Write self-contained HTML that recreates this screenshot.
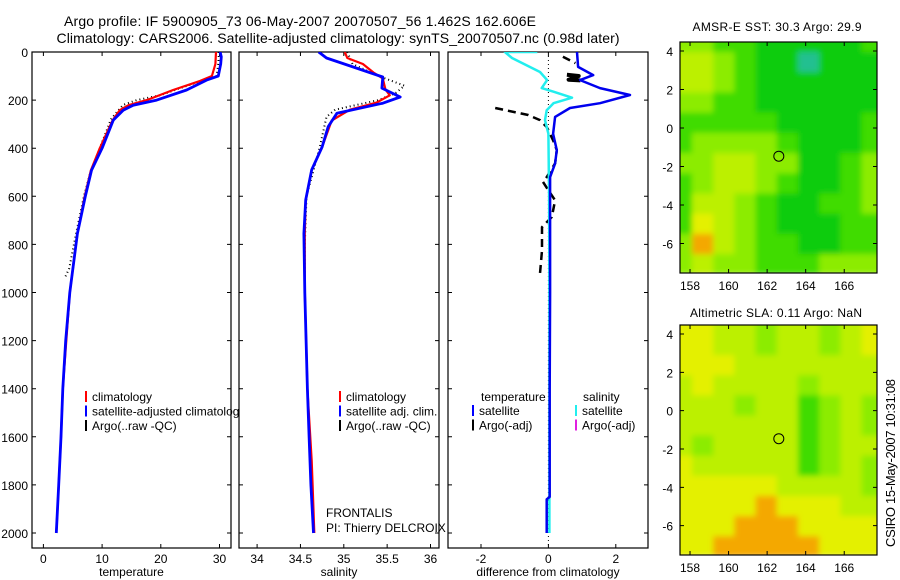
<!DOCTYPE html>
<html><head><meta charset="utf-8"><style>
html,body{margin:0;padding:0;background:#fff;}
svg{display:block;font-family:"Liberation Sans",Arial,sans-serif;}
</style></head><body>
<svg id="fig" width="900" height="580" viewBox="0 0 900 580" xmlns="http://www.w3.org/2000/svg">
<defs>
<clipPath id="cp1"><rect x="32" y="52" width="199" height="496"/></clipPath>
<clipPath id="cp2"><rect x="239" y="52" width="200" height="496"/></clipPath>
<clipPath id="cp3"><rect x="448" y="52" width="200" height="496"/></clipPath>
<clipPath id="cm1"><rect x="680" y="42" width="197" height="231"/></clipPath>
<clipPath id="cm2"><rect x="680" y="325" width="197" height="230"/></clipPath>
<filter id="bl" x="-5%" y="-5%" width="110%" height="110%"><feGaussianBlur stdDeviation="3"/></filter>
</defs>
<text x="300" y="26" font-size="14" text-anchor="middle" textLength="472">Argo profile: IF 5900905_73 06-May-2007 20070507_56 1.462S 162.606E</text>
<text x="338" y="43" font-size="14" text-anchor="middle" textLength="563">Climatology: CARS2006. Satellite-adjusted climatology: synTS_20070507.nc (0.98d later)</text>
<text x="777" y="31" font-size="12" text-anchor="middle" textLength="169">AMSR-E SST: 30.3 Argo: 29.9</text>
<text x="776" y="317" font-size="12" text-anchor="middle" textLength="172">Altimetric SLA: 0.11 Argo: NaN</text>
<text transform="translate(895,463) rotate(-90)" font-size="13" text-anchor="middle" textLength="168">CSIRO 15-May-2007 10:31:08</text>
<g id="g"></g>
</svg>
<script>
// ---------- profile data ----------
const tempClimDepth = [0,50,100,120,158,200,221,242,283,400,492,604,755,1000,1200,1400,1600,1800,2000];
const tempClim      = [29.4,29.3,28.7,26.7,22.1,17.6,14.5,13,11.8,9.6,8.1,7.0,5.8,4.5,3.9,3.3,3.0,2.6,2.2];
const tempSatDepth  = [0,20,50,100,117,158,200,221,242,283,400,492,604,755,1000,1200,1400,1600,1800,2000];
const tempSat       = [30.1,30.3,30.2,29.8,27.8,24.4,19.3,15.3,13.6,11.9,10.0,8.2,7.1,5.8,4.5,3.8,3.3,3.0,2.6,2.2];
const tempArgoDepth = [0,50,100,150,180,200,220,250,280,400,500,600,750,900,937];
const tempArgo      = [29.9,29.8,29.5,23.3,19.9,15.9,13.6,12.5,11.5,9.6,8.0,6.9,5.6,4.4,3.7];
const salClimDepth  = [0,25,50,85,110,155,180,210,240,285,395,490,615,755,1000,1400,1700,1800,2000];
const salClim       = [35.01,35.04,35.22,35.34,35.45,35.48,35.53,35.38,35.07,34.86,34.75,34.63,34.56,34.55,34.55,34.58,34.63,34.64,34.66];
const salSatDepth   = [0,25,54,104,150,187,213,255,310,395,490,615,755,1000,1400,1600,1800,2000];
const salSat        = [34.71,34.8,35.04,35.45,35.44,35.65,35.45,34.92,34.82,34.75,34.63,34.56,34.54,34.55,34.58,34.6,34.62,34.65];
const salArgoDepth  = [0,50,100,140,170,200,240,270,400,600,800,950];
const salArgo       = [35.04,35.1,35.4,35.7,35.6,35.4,34.9,34.8,34.72,34.57,34.55,34.55];
const diffSalDepth  = [0,0,25,83,117,150,165,190,213,242,283,340,600,1000,1400,1800,2000];
const diffSal       = [-0.33,-1.29,-1.08,-0.25,-0.04,-0.2,0.15,0.7,0.15,-0.05,-0.1,0,0.02,0.03,0.03,0.03,0.03];
const diffTempDepth = [0,62,96,117,150,179,213,233,270,340,408,463,520,617,1000,1400,1850,1860,2000];
const diffTemp      = [0.85,0.88,1.33,0.94,1.53,2.42,1.53,0.64,0.2,0.14,0.25,0.2,0.05,0.05,0.05,0.04,0.04,-0.05,-0.05];
const diffArgoTopDepth = [20,46];
const diffArgoTop      = [0.43,0.8];
const diffArgoDepth = [233,262,283,312,367,408,463,520,540,575,617,686,728,825,921];
const diffArgo      = [-1.58,-0.6,-0.25,-0.05,0.14,0.25,0.2,-0.05,-0.16,0,0.2,0.1,-0.19,-0.19,-0.25];
const diffArgoBlobDepth = [95,100,115,118];
const diffArgoBlob      = [0.55,0.9,0.6,0.95];
const depthTicks = [0,200,400,600,800,1000,1200,1400,1600,1800,2000];
const tempTicks = [0,10,20,30];
const salTicks = [34,34.5,35,35.5,36];
const salTickLabels = ["34","34.5","35","35.5","36"];
const diffTicks = [-2,0,2];
// ---------- map data (colour class 0..6) ----------
const mapLonTicks = [158,160,162,164,166];
const mapLatTicks = [4,2,0,-2,-4,-6];
const palette = ["#20c090","#10cc10","#40dc00","#8cec00","#bcf000","#e4f000","#f4a800"];
const sstGrid = [
[3,3,2,2,1,1,1,1,1,2],[4,4,3,2,1,1,0,1,1,1],[4,4,3,2,1,1,1,1,1,1],[3,3,2,2,1,1,1,1,1,1],
[2,2,2,2,2,1,1,1,1,2],[2,3,3,3,3,2,1,1,1,2],[3,3,4,4,3,3,1,1,2,3],[2,3,4,4,3,2,1,1,2,3],
[2,4,4,3,2,1,1,2,2,3],[2,5,4,3,2,1,1,1,2,2],[3,6,4,3,2,2,1,1,2,2],[3,4,3,3,2,2,2,3,3,3]];
const slaGrid = [
[5,5,4,4,3,4,4,3,4,5],[5,5,4,4,3,4,4,3,4,5],[5,5,5,4,4,4,4,4,4,4],[4,5,4,4,4,4,3,4,4,4],
[4,4,4,3,4,4,2,3,4,3],[4,4,4,4,4,4,2,3,4,3],[4,3,4,4,4,4,2,3,4,4],[5,4,4,4,4,4,2,3,4,3],
[5,5,5,5,5,4,4,4,4,3],[5,5,5,5,6,5,5,5,4,4],[5,5,5,6,6,6,5,5,5,5],[5,5,6,6,6,6,6,5,5,5]];
const argoLon = 162.606, argoLat = -1.462;

const NS="http://www.w3.org/2000/svg";
const G=document.getElementById('g');
function mk(tag,attrs,parent){const e=document.createElementNS(NS,tag);for(const k in attrs)e.setAttribute(k,attrs[k]);(parent||G).appendChild(e);return e;}
const yD=d=>52+d*0.2405;
const xT=v=>43.4+v*5.87;
const xS=v=>257.1+(v-34)*86.7;
const xF=v=>548.4+v*33.7;
function pathD(xs,ds,fx){return xs.map((v,i)=>(i?'L':'M')+fx(v).toFixed(1)+','+yD(ds[i]).toFixed(1)).join(' ');}

function panel(name,x0,x1,ticks,labels,fx,showY,xlabel,clip){
  const r=mk('rect',{x:x0,y:52,width:x1-x0,height:496,fill:'#fff',stroke:'#000','stroke-width':1.2});
  
  
  depthTicks.forEach(d=>{
    const t=mk('path',{d:`M${x0},${yD(d)}h4M${x1},${yD(d)}h-4`,stroke:'#000'});
    
    
    if(showY){const l=mk('text',{x:x0-4,y:yD(d)+5,'font-size':12,'text-anchor':'end'});l.textContent=d;
      
      }
  });
  ticks.forEach((v,i)=>{
    const t=mk('path',{d:`M${fx(v)},548v-4M${fx(v)},52v4`,stroke:'#000'});
    
    
    const l=mk('text',{x:fx(v),y:563,'font-size':12,'text-anchor':'middle'});l.textContent=labels[i];
    
    
  });
  const xl=mk('text',{x:(x0+x1)/2,y:576,'font-size':12,'text-anchor':'middle'});xl.textContent=xlabel;
  
  
  return mk('g',{'clip-path':`url(#${clip})`});
}
function line(g,name,xs,ds,fx,col,w,dash){
  const p=mk('path',{d:pathD(xs,ds,fx),fill:'none',stroke:col,'stroke-width':w,'stroke-linejoin':'round'},g);
  if(dash)p.setAttribute('stroke-dasharray',dash);
  
  
}
function legend(x,rows){
  rows.forEach((r,i)=>{
    const y=397+i*14.5;
    const m=mk('line',{x1:x,x2:x,y1:y-6,y2:y+5,stroke:r[1],'stroke-width':2});
    
    
    const t=mk('text',{x:x+6,y:y+4,'font-size':12});t.textContent=r[0];
    
    
  });
}
// temperature panel
let g1=panel('temperature-panel',32,231,tempTicks,tempTicks,xT,true,'temperature','cp1');
line(g1,'temp-argo-line',tempArgo,tempArgoDepth,xT,'#000',2,'1,3');
line(g1,'temp-climatology-line',tempClim,tempClimDepth,xT,'#f00',2.2);
line(g1,'temp-satellite-line',tempSat,tempSatDepth,xT,'#00f',2.8);
legend(86,[['climatology','#f00'],['satellite-adjusted climatology','#00f'],['Argo(..raw -QC)','#000']]);
// salinity panel
let g2=panel('salinity-panel',239,439,salTicks,salTickLabels,xS,false,'salinity','cp2');
line(g2,'sal-argo-line',salArgo,salArgoDepth,xS,'#000',2,'1,3');
line(g2,'sal-climatology-line',salClim,salClimDepth,xS,'#f00',2.2);
line(g2,'sal-satellite-line',salSat,salSatDepth,xS,'#00f',2.8);
legend(340,[['climatology','#f00'],['satellite adj. clim.','#00f'],['Argo(..raw -QC)','#000']]);
let fr=mk('text',{x:326,y:517,'font-size':12});fr.textContent='FRONTALIS';


let pi=mk('text',{x:326,y:532,'font-size':12});pi.textContent='PI: Thierry DELCROIX';


// difference panel
let g3=panel('difference-panel',448,648,diffTicks,diffTicks,xF,false,'difference from climatology','cp3');
let zl=mk('line',{x1:xF(0),x2:xF(0),y1:52,y2:548,stroke:'#000','stroke-width':1,'stroke-dasharray':'1,3'},g3);


line(g3,'diff-argo-temp-top-line',diffArgoTop,diffArgoTopDepth,xF,'#000',2.5,'8,5');
line(g3,'diff-argo-temp-line',diffArgo,diffArgoDepth,xF,'#000',2.5,'8,5');
line(g3,'diff-argo-temp-blob',diffArgoBlob,diffArgoBlobDepth,xF,'#000',4);
line(g3,'diff-sal-satellite-line',diffSal,diffSalDepth,xF,'#22eeee',2.5);
line(g3,'diff-temp-satellite-line',diffTemp,diffTempDepth,xF,'#0000ee',2.5);
let th=mk('text',{x:481,y:401,'font-size':12});th.textContent='temperature';


let sh=mk('text',{x:583,y:401,'font-size':12});sh.textContent='salinity';


[[473,[['satellite','#00f'],['Argo(-adj)','#000']]],[576,[['satellite','#22eeee'],['Argo(-adj)','#e020e0']]]].forEach(c=>{
  c[1].forEach((r,i)=>{const y=411+i*14.5;
    const m=mk('line',{x1:c[0],x2:c[0],y1:y-6,y2:y+5,stroke:r[1],'stroke-width':2});
    
    
    const t=mk('text',{x:c[0]+6,y:y+4,'font-size':12});t.textContent=r[0];
    
    });
});
// maps
function map(name,grid,top,bottom,clip){
  const lonL=157.48,lonR=167.7,latT=4.47,latB=-7.53;
  const fx=lon=>680+(lon-lonL)/(lonR-lonL)*197;
  const fy=lat=>top+(latT-lat)/(latT-latB)*(bottom-top);
  const gc=mk('g',{'clip-path':`url(#${clip})`});
  const gb=mk('g',{filter:'url(#bl)'},gc);
  grid.forEach((row,ri)=>row.forEach((v,ci)=>{
    const lon0=157+ci*1.1, lat0=5-ri*1.05;
    const c=mk('rect',{x:fx(lon0),y:fy(lat0),width:fx(lon0+1.1)-fx(lon0)+0.5,height:fy(lat0-1.05)-fy(lat0)+0.5,fill:palette[v]},gb);
    
    
  }));
  const f=mk('rect',{x:680,y:top,width:197,height:bottom-top,fill:'none',stroke:'#000','stroke-width':1.2});
  
  
  mapLonTicks.forEach(l=>{
    const t=mk('path',{d:`M${fx(l)},${bottom}v-4M${fx(l)},${top}v4`,stroke:'#000'});
    
    
    const tl=mk('text',{x:fx(l),y:bottom+17,'font-size':12,'text-anchor':'middle'});tl.textContent=l;
    
    
  });
  mapLatTicks.forEach(l=>{
    const t=mk('path',{d:`M680,${fy(l)}h4M877,${fy(l)}h-4`,stroke:'#000'});
    
    
    const tl=mk('text',{x:673,y:fy(l)+5,'font-size':12,'text-anchor':'end'});tl.textContent=l;
    
    
  });
  const c=mk('circle',{cx:fx(argoLon),cy:fy(argoLat),r:5,fill:'none',stroke:'#000','stroke-width':1});
  
  
}
map('sst-map',sstGrid,42,273,'cm1');
map('sla-map',slaGrid,325,555,'cm2');
</script>
</body></html>
